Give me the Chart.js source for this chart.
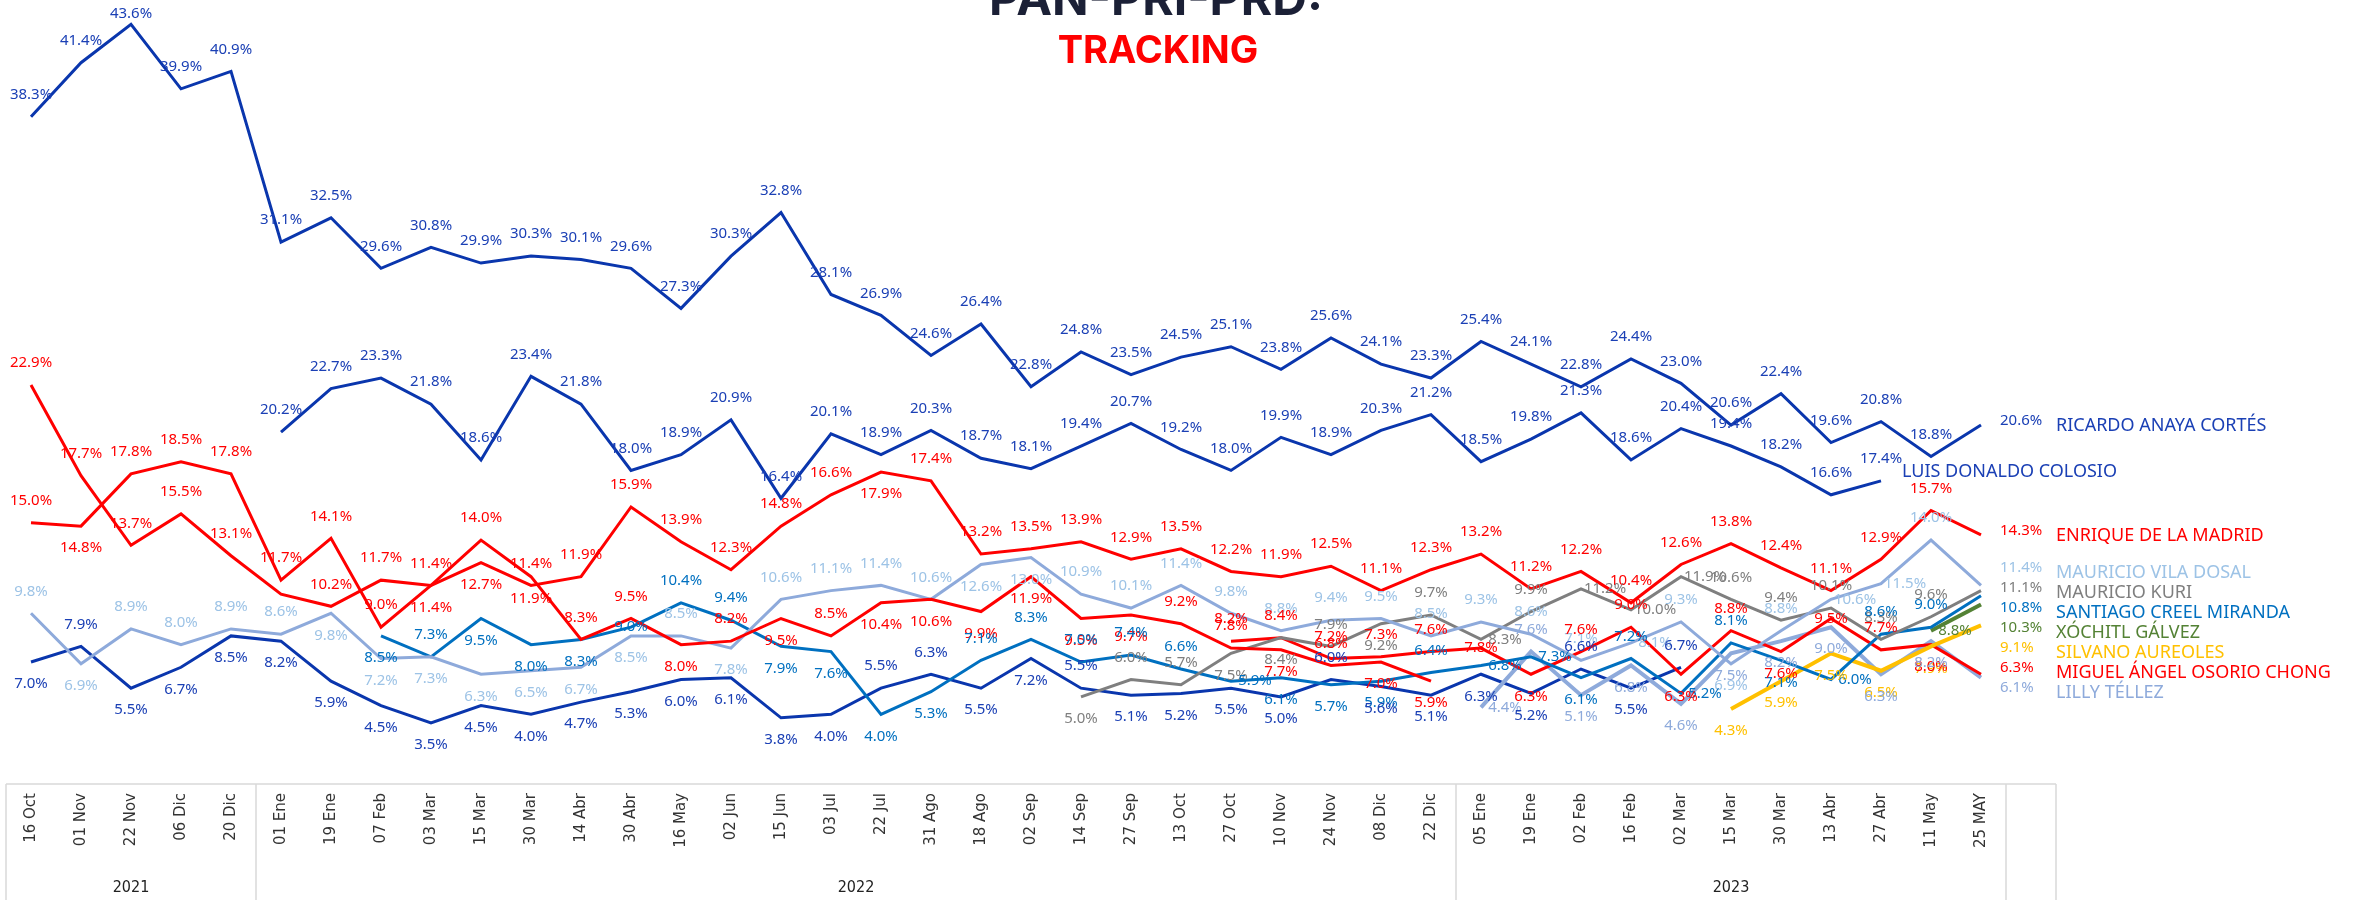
<!DOCTYPE html>
<html lang="es">
<head>
<meta charset="utf-8">
<title>PAN-PRI-PRD: Tracking</title>
<script src="https://cdn.jsdelivr.net/npm/chart.js@4.4.1/dist/chart.umd.min.js"></script>
<style>
  html, body { margin: 0; padding: 0; background: #fff; }
  #wrap { position: relative; width: 2356px; height: 900px; }
</style>
</head>
<body>
<div id="wrap"><canvas id="trackingChart"></canvas></div>
<script>
// ===== DATOS =====
const dates = ['16 Oct', '01 Nov', '22 Nov', '06 Dic', '20 Dic',
  '01 Ene', '19 Ene', '07 Feb', '03 Mar', '15 Mar', '30 Mar', '14 Abr', '30 Abr', '16 May', '02 Jun', '15 Jun', '03 Jul',
  '22 Jul', '31 Ago', '18 Ago', '02 Sep', '14 Sep', '27 Sep', '13 Oct', '27 Oct', '10 Nov', '24 Nov', '08 Dic', '22 Dic',
  '05 Ene', '19 Ene', '02 Feb', '16 Feb', '02 Mar', '15 Mar', '30 Mar', '13 Abr', '27 Abr', '11 May', '25 MAY'];
const years = ['2021', '2022', '2023'];
const yearSizes = [5, 24, 11];

const anaya = [38.3, 41.4, 43.6, 39.9, 40.9, 31.1, 32.5, 29.6, 30.8, 29.9, 30.3, 30.1, 29.6, 27.3, 30.3, 32.8, 28.1, 26.9, 24.6, 26.4,
  22.8, 24.8, 23.5, 24.5, 25.1, 23.8, 25.6, 24.1, 23.3, 25.4, 24.1, 22.8, 24.4, 23.0, 20.6, 22.4, 19.6, 20.8, 18.8, 20.6];
const colosioStart = 5;
const colosio = [20.2, 22.7, 23.3, 21.8, 18.6, 23.4, 21.8, 18.0, 18.9, 20.9, 16.4, 20.1, 18.9, 20.3, 18.7,
  18.1, 19.4, 20.7, 19.2, 18.0, 19.9, 18.9, 20.3, 21.2, 18.5, 19.8, 21.3, 18.6, 20.4, 19.4, 18.2, 16.6, 17.4];
const delaMadrid = [22.9, 17.7, 13.7, 15.5, 13.1, 10.9, 10.2, 11.7, 11.4, 12.7, 11.4, 11.9, 15.9, 13.9, 12.3, 14.8, 16.6, 17.9, 17.4, 13.2,
  13.5, 13.9, 12.9, 13.5, 12.2, 11.9, 12.5, 11.1, 12.3, 13.2, 11.2, 12.2, 10.4, 12.6, 13.8, 12.4, 11.1, 12.9, 15.7, 14.3];
const rojoOtro = [15.0, 14.8, 17.8, 18.5, 17.8, 11.7, 14.1, 9.0, 11.4, 14.0, 11.9, 8.3, 9.5, 8.0, 8.2, 9.5, 8.5, 10.4, 10.6, 9.9,
  11.9, 9.5, 9.7, 9.2, 7.8, 7.7, 6.8, 7.0, 5.9];
const osorioStart = 24;
const osorio = [8.2, 8.4, 7.2, 7.3, 7.6, 7.8, 6.3, 7.6, 9.0, 6.3, 8.8, 7.6, 9.5, 7.7, 8.0, 6.3];
const vila = [9.8, 6.9, 8.9, 8.0, 8.9, 8.6, 9.8, 7.2, 7.3, 6.3, 6.5, 6.7, 8.5, 8.5, 7.8, 10.6, 11.1, 11.4, 10.6, 12.6,
  13.0, 10.9, 10.1, 11.4, 9.8, 8.8, 9.4, 9.5, 8.5, 9.3, 8.6, 7.1, 8.1, 9.3, 6.9, 8.8, 10.6, 11.5, 14.0, 11.4];
const kuriStart = 21;
const kuri = [5.0, 6.0, 5.7, 7.5, 8.4, 7.9, 9.2, 9.7, 8.3, 9.9, 11.2, 10.0, 11.9, 10.6, 9.4, 10.1, 8.3, 9.6, 11.1];
const creelStart = 7;
const creel = [8.5, 7.3, 9.5, 8.0, 8.3, 9.0, 10.4, 9.4, 7.9, 7.6, 4.0, 5.3, 7.1, 8.3, 7.0, 7.4, 6.6, 5.9, 6.1, 5.7,
  5.9, 6.4, 6.8, 7.3, 6.1, 7.2, 5.2, 8.1, 7.1, 6.0, 8.6, 9.0, 10.8];
const xochitlStart = 38;
const xochitl = [8.8, 10.3];
const silvanoStart = 34;
const silvano = [4.3, 5.9, 7.5, 6.5, 7.9, 9.1];
const lillyStart = 29;
const lilly = [4.4, 7.6, 5.1, 6.8, 4.6, 7.5, 8.2, 9.0, 6.3, 8.2, 6.1];
const azulOtro = [7.0, 7.9, 5.5, 6.7, 8.5, 8.2, 5.9, 4.5, 3.5, 4.5, 4.0, 4.7, 5.3, 6.0, 6.1, 3.8, 4.0, 5.5, 6.3, 5.5,
  7.2, 5.5, 5.1, 5.2, 5.5, 5.0, 6.0, 5.6, 5.1, 6.3, 5.2, 6.6, 5.5, 6.7];

// ===== COLORES =====
const AZUL = '#0a36ad', AZUL_TXT = '#1b40b5';
const ROJO = '#ff0000';
const CELESTE = '#8eaadb', CELESTE_TXT = '#9dc3e6';
const GRIS = '#7f7f7f', AZUL_MEDIO = '#0070c0', VERDE = '#548235', AMARILLO = '#ffc000';

// serie completa con null fuera de su rango (+1 columna vacia al final)
function fullRow(start, values) {
  const row = new Array(dates.length + 1).fill(null);
  values.forEach((v, i) => row[start + i] = v);
  return row;
}

// posicion de etiquetas: a = arriba, b = abajo, r = derecha, c = centro, n = ninguna
const series = [
  { name: 'RICARDO ANAYA CORTÉS', start: 0, values: anaya, color: AZUL, text: AZUL_TXT, width: 3, pos: { def: 'a' } },
  { name: 'LUIS DONALDO COLOSIO', start: colosioStart, values: colosio, color: AZUL, text: AZUL_TXT, width: 3, pos: { def: 'a' } },
  { name: 'ENRIQUE DE LA MADRID', start: 0, values: delaMadrid, color: ROJO, text: ROJO, width: 3, pos: { def: 'a', b: [9, 17], n: [5] } },
  { name: '', start: 0, values: rojoOtro, color: ROJO, text: ROJO, width: 3,
    pos: { def: 'a', b: [1, 8, 10, 13, 15, 17, 18, 19, 20, 21, 22, 25, 27, 28] } },
  { name: 'MAURICIO VILA DOSAL', start: 0, values: vila, color: CELESTE, text: CELESTE_TXT, width: 3,
    pos: { def: 'a', b: [1, 6, 7, 8, 9, 10, 11, 12, 14, 19, 20, 34], r: [32, 36, 37] } },
  { name: 'MAURICIO KURI', start: kuriStart, values: kuri, color: GRIS, text: GRIS, width: 3,
    pos: { def: 'a', b: [21, 24, 25, 27], r: [29, 31, 32, 33] } },
  { name: 'SANTIAGO CREEL MIRANDA', start: creelStart, values: creel, color: AZUL_MEDIO, text: AZUL_MEDIO, width: 3,
    pos: { def: 'a', b: [7, 9, 10, 11, 15, 16, 17, 18, 25, 26, 27, 31, 35], r: [24, 29, 30, 33, 36], c: [12] } },
  { name: 'XÓCHITL GÁLVEZ', start: xochitlStart, values: xochitl, color: VERDE, text: VERDE, width: 4, pos: { def: 'r' } },
  { name: 'SILVANO AUREOLES', start: silvanoStart, values: silvano, color: AMARILLO, text: AMARILLO, width: 4, pos: { def: 'b' } },
  { name: 'MIGUEL ÁNGEL OSORIO CHONG', start: osorioStart, values: osorio, color: ROJO, text: ROJO, width: 3,
    pos: { def: 'a', b: [30, 33, 35, 38], c: [29, 36] } },
  { name: 'LILLY TÉLLEZ', start: lillyStart, values: lilly, color: CELESTE, text: CELESTE, width: 4, pos: { def: 'b', r: [29], a: [30] } },
  // serie azul sin nombre: casi todas las etiquetas van abajo
  { name: '', start: 0, values: azulOtro, color: AZUL, text: AZUL_TXT, width: 3, pos: { def: 'b', a: [1, 17, 18, 21, 26, 31, 33] } }
];

function labelPos(cfg, idx) {
  for (const k of ['a', 'b', 'r', 'c', 'n']) {
    if (cfg[k] && cfg[k].includes(idx)) return k;
  }
  return cfg.def;
}

const LBL_FONT = '15px "Noto Sans", sans-serif';
const NAME_FONT = '18px "Noto Sans", sans-serif';

// ===== ETIQUETAS, LEYENDA, TABLA Y TITULO =====
const overlay = {
  id: 'overlay',
  afterDatasetsDraw(chart) {
    const { ctx, chartArea } = chart;
    const xs = chart.scales.x;
    const lastIdx = dates.length - 1;
    const enders = [];
    ctx.save();
    ctx.font = LBL_FONT;
    ctx.textBaseline = 'middle';
    chart.data.datasets.forEach((ds, di) => {
      const meta = chart.getDatasetMeta(di);
      let lastPt = null;
      ds.data.forEach((v, i) => {
        if (v === null) return;
        const pt = meta.data[i];
        lastPt = pt;
        if (i === lastIdx) { enders.push({ ds, v, y: pt.y }); return; }
        const p = labelPos(ds.pos, i);
        if (p === 'n') return;
        let x = pt.x, y = pt.y;
        if (p === 'a') y = Math.max(y - 22, chartArea.top + 14);
        else if (p === 'b') y += 22;
        else if (p === 'r') x += 24;
        ctx.fillStyle = ds.textColor;
        ctx.textAlign = 'center';
        ctx.fillText(v.toFixed(1) + '%', x, y);
      });
      // nombre junto al final de series que terminan antes
      if (ds.name && lastPt && ds.data[lastIdx] === null) {
        ctx.font = NAME_FONT;
        ctx.textAlign = 'left';
        ctx.fillStyle = ds.textColor;
        ctx.fillText(ds.name, lastPt.x + 21, lastPt.y - 9);
        ctx.font = LBL_FONT;
      }
    });

    // columna de leyenda: separar filas que se enciman
    const gap = 20;
    enders.sort((a, b) => a.y - b.y);
    let chain = [];
    const settle = ch => {
      if (ch.length < 2) return;
      const shift = (ch[0].y + ch[ch.length - 1].y) / 2 - (ch[0].ry + ch[ch.length - 1].ry) / 2;
      ch.forEach(r => r.ry += shift);
    };
    enders.forEach((r, k) => {
      r.ry = r.y;
      if (k > 0 && r.y < enders[k - 1].ry + gap) {
        r.ry = enders[k - 1].ry + gap;
        chain.push(r);
      } else {
        settle(chain);
        chain = [r];
      }
    });
    settle(chain);

    const valX = xs.getPixelForValue(lastIdx) + 19;
    enders.forEach(r => {
      ctx.fillStyle = r.ds.textColor;
      ctx.textAlign = 'left';
      ctx.font = LBL_FONT;
      ctx.fillText(r.v.toFixed(1) + '%', valX, r.ry - 4);
      ctx.font = NAME_FONT;
      ctx.fillText(r.ds.name, chartArea.right, r.ry + 1);
    });
    ctx.restore();
  },
  afterDraw(chart) {
    const { ctx, chartArea } = chart;
    const xs = chart.scales.x;
    const half = (xs.getPixelForValue(1) - xs.getPixelForValue(0)) / 2;
    const top = chartArea.bottom;
    const bottom = chart.height;
    ctx.save();

    // tabla del eje
    ctx.strokeStyle = '#d9d9d9';
    ctx.lineWidth = 1.5;
    ctx.beginPath();
    ctx.moveTo(xs.left, top);
    ctx.lineTo(xs.right, top);
    let idx = 0;
    const bounds = [xs.getPixelForValue(0) - half];
    yearSizes.forEach(n => { idx += n; bounds.push(xs.getPixelForValue(idx - 1) + half); });
    bounds.push(xs.right);
    bounds.forEach(b => { ctx.moveTo(b, top); ctx.lineTo(b, bottom); });
    ctx.stroke();

    ctx.fillStyle = '#222';
    ctx.font = '16px "Liberation Sans Narrow", "DejaVu Sans Condensed", sans-serif';
    ctx.textAlign = 'center';
    ctx.textBaseline = 'middle';
    years.forEach((y, i) => ctx.fillText(y, (bounds[i] + bounds[i + 1]) / 2, 888));

    // titulo
    ctx.textBaseline = 'alphabetic';
    ctx.fillStyle = '#1b2036';
    ctx.font = 'bold 48px Inter, sans-serif';
    ctx.fillText('PAN-PRI-PRD:', 1156, 15);
    ctx.fillStyle = '#ff0000';
    ctx.font = 'bold 38px Inter, sans-serif';
    ctx.fillText('TRACKING', 1158, 63);
    ctx.restore();
  }
};

const datasets = series.map(s => ({
  label: s.name,
  data: fullRow(s.start, s.values),
  borderColor: s.color,
  backgroundColor: s.color,
  borderWidth: s.width,
  pointRadius: 0,
  pointHoverRadius: 0,
  tension: 0,
  fill: false,
  spanGaps: false,
  textColor: s.text,
  pos: s.pos,
  name: s.name
}));

new Chart(document.getElementById('trackingChart'), {
  type: 'line',
  data: { labels: [...dates, ''], datasets },
  options: {
    responsive: true,
    maintainAspectRatio: false,
    animation: false,
    devicePixelRatio: 1,
    layout: { padding: { left: 6, right: 300, top: 0, bottom: 0 } },
    plugins: { legend: { display: false }, tooltip: { enabled: false }, title: { display: false } },
    scales: {
      x: {
        offset: true,
        grid: { display: false, drawTicks: false },
        border: { display: false },
        ticks: {
          autoSkip: false, maxRotation: 90, minRotation: 90, padding: 9,
          color: '#333', font: { family: 'DejaVu Sans', size: 15 }
        },
        afterFit: s => { s.height = 116; }
      },
      y: { display: false, min: 0, max: 45 }
    }
  },
  plugins: [overlay]
});
</script>
</body>
</html>
